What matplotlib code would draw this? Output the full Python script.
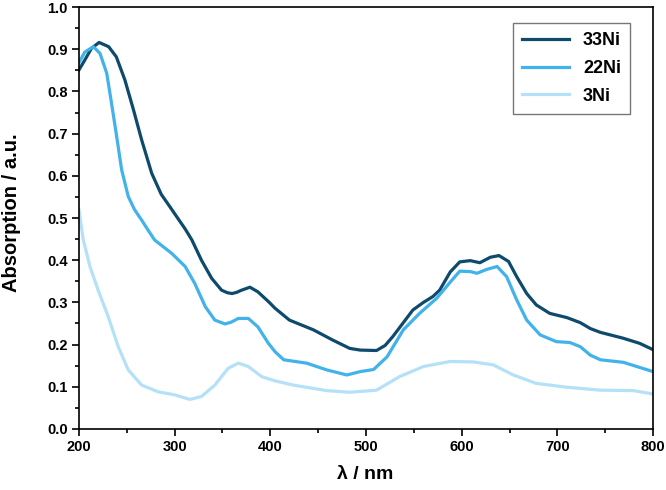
import matplotlib

matplotlib.use("Agg")
import matplotlib.pyplot as plt
from matplotlib.ticker import MultipleLocator

plt.rcParams["font.family"] = ["Liberation Sans", "DejaVu Sans"]
plt.rcParams["font.weight"] = "bold"

# --- spectra (wavelength in nm, absorption in a.u.) ---
wl_33 = [200, 206, 213, 221, 231, 239, 248, 257, 265.5, 276, 286, 294, 304,
         311, 318, 328, 338.7, 349, 355, 360, 365, 370, 378.7, 387, 398, 405,
         420, 445, 465, 483, 494, 511, 520, 528, 540, 549, 560, 570, 577, 588,
         598, 609, 619, 630, 639, 649, 657.5, 668, 678, 692, 710, 724, 734.5,
         745, 769, 786, 800]
abs_33 = [0.851, 0.874, 0.902, 0.916, 0.906, 0.882, 0.827, 0.756, 0.685, 0.606,
          0.556, 0.530, 0.497, 0.474, 0.448, 0.400, 0.357, 0.329, 0.323, 0.321,
          0.324, 0.329, 0.336, 0.325, 0.302, 0.286, 0.258, 0.235, 0.211, 0.191,
          0.187, 0.186, 0.198, 0.219, 0.255, 0.282, 0.300, 0.314, 0.329, 0.372,
          0.396, 0.399, 0.394, 0.407, 0.411, 0.397, 0.361, 0.321, 0.294, 0.274,
          0.264, 0.252, 0.238, 0.229, 0.215, 0.203, 0.188]

wl_22 = [200, 206, 215, 222, 229, 234, 239.4, 244.6, 251.5, 258, 265.5, 272,
         279, 297, 311, 321, 332, 342, 352.6, 359, 366.5, 377, 387, 398, 405,
         414, 438, 459, 480, 494, 508, 522, 539, 556, 574, 588, 598, 609, 616,
         626, 637, 647, 657.5, 668, 682, 699, 713, 724, 734.5, 745, 769, 800]
abs_22 = [0.868, 0.893, 0.906, 0.890, 0.843, 0.772, 0.693, 0.614, 0.551, 0.520,
          0.495, 0.472, 0.448, 0.416, 0.385, 0.345, 0.290, 0.258, 0.249, 0.253,
          0.262, 0.262, 0.242, 0.203, 0.183, 0.164, 0.156, 0.140, 0.128, 0.136,
          0.141, 0.171, 0.235, 0.274, 0.310, 0.348, 0.374, 0.373, 0.369, 0.378,
          0.385, 0.361, 0.306, 0.258, 0.223, 0.207, 0.205, 0.195, 0.175, 0.164,
          0.158, 0.136]

wl_3 = [200, 204.5, 211.5, 220, 230.6, 241, 251.5, 265.5, 283, 300, 316, 328,
        342, 356, 366.5, 377, 391, 405, 424, 459, 483, 511, 535, 560, 588, 612,
        633, 654, 678, 710, 745, 779, 800]
abs_3 = [0.519, 0.448, 0.385, 0.329, 0.266, 0.195, 0.140, 0.104, 0.088, 0.081,
         0.070, 0.077, 0.104, 0.144, 0.156, 0.148, 0.124, 0.114, 0.104, 0.091,
         0.087, 0.092, 0.124, 0.148, 0.160, 0.159, 0.152, 0.128, 0.108, 0.099,
         0.092, 0.091, 0.083]

series = [("33Ni", wl_33, abs_33, "#0d4a6c"),
          ("22Ni", wl_22, abs_22, "#42b2ea"),
          ("3Ni", wl_3, abs_3, "#b4e1f8")]

fig = plt.figure(figsize=(6.66, 4.9), dpi=100)
ax = fig.add_axes([0.1186, 0.1245, 0.8619, 0.8612])

for name, wl, a, col in series:
    ax.plot(wl, a, color=col, lw=2.3, label=name, solid_joinstyle="round")

ax.set_xlim(200, 800)
ax.set_ylim(0, 1.0)
ax.xaxis.set_major_locator(MultipleLocator(100))
ax.xaxis.set_minor_locator(MultipleLocator(50))
ax.yaxis.set_major_locator(MultipleLocator(0.1))
ax.yaxis.set_minor_locator(MultipleLocator(0.05))
ax.yaxis.set_major_formatter(lambda v, p: f"{v:.1f}")
ax.tick_params(which="major", direction="out", length=5, width=1.2,
               labelsize=10.5, pad=3)
ax.tick_params(which="minor", direction="out", length=3, width=1.2)
for lab in ax.get_xticklabels() + ax.get_yticklabels():
    lab.set_fontweight("bold")
for s in ax.spines.values():
    s.set_linewidth(1.2)

ax.set_xlabel("λ / nm", fontsize=14, fontweight="bold")
ax.set_ylabel("Absorption / a.u.", fontsize=14.5, fontweight="bold")
ax.xaxis.set_label_coords(0.498, -0.088)
ax.yaxis.set_label_coords(-0.101, 0.513)

leg = ax.legend(loc="upper right", bbox_to_anchor=(0.96, 0.962),
                borderaxespad=0, fontsize=13, frameon=True, fancybox=False,
                handlelength=2.6, labelspacing=0.6, borderpad=0.5,
                handletextpad=0.8)
leg.get_frame().set_edgecolor("#555555")
leg.get_frame().set_linewidth(1.0)
for t in leg.get_texts():
    t.set_fontweight("bold")

fig.savefig("out.png", dpi=100)
